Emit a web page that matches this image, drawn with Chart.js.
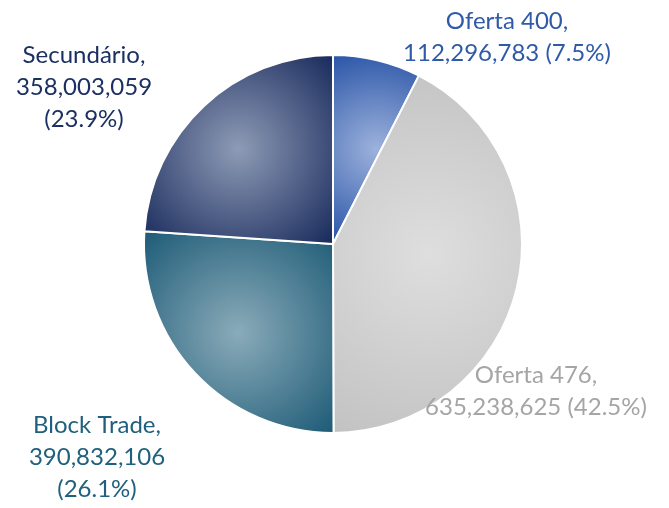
<!DOCTYPE html>
<html>
<head>
<meta charset="utf-8">
<script src="https://cdn.jsdelivr.net/npm/chart.js@4/dist/chart.umd.min.js"></script>
<style>
  html, body { margin: 0; padding: 0; background: #ffffff; }
  #wrap { width: 669px; height: 508px; position: relative; }
</style>
</head>
<body>
<div id="wrap"><canvas id="c" width="669" height="508"></canvas></div>
<script>
// ---- data ----
const categories = ["Oferta 400", "Oferta 476", "Block Trade", "Secundário"];
const values = [112296783, 635238625, 390832106, 358003059];
const percentLabels = ["7.5%", "42.5%", "26.1%", "23.9%"];

// ---- styles ----
const edgeColors   = ["#2853a6", "#c1c2c1", "#1c5a76", "#17295b"];
const centerColors = ["#9db2dc", "#dedede", "#8aabb9", "#8e9bb6"];
const textColors   = ["#2e5aa8", "#a5a5a5", "#1f607e", "#1c2f63"];
// label anchor (center x, first baseline y) and line splitting, per slice
const labelLayout = [
  { x: 507, y: 29,  lines: (n, v, p) => [n + ",", v + " (" + p + ")"] },
  { x: 536, y: 383, lines: (n, v, p) => [n + ",", v + " (" + p + ")"] },
  { x: 97,  y: 433, lines: (n, v, p) => [n + ",", v, "(" + p + ")"] },
  { x: 84,  y: 63,  lines: (n, v, p) => [n + ",", v, "(" + p + ")"] }
];
const FONT = "24px Lato, 'Open Sans', sans-serif";
const LINE_H = 32;

function fmt(n) { return n.toLocaleString("en-US"); }

function sliceGradient(ctx) {
  const chart = ctx.chart;
  const i = ctx.dataIndex;
  const area = chart.chartArea;
  if (!area) return edgeColors[i];
  const cx = (area.left + area.right) / 2;
  const cy = (area.top + area.bottom) / 2;
  const r = Math.min(area.right - area.left, area.bottom - area.top) / 2;
  const total = values.reduce((a, b) => a + b, 0);
  let before = 0;
  for (let k = 0; k < i; k++) before += values[k];
  const a0 = before / total * Math.PI * 2;
  const a1 = (before + values[i]) / total * Math.PI * 2;
  const pts = [[cx, cy]];
  const pt = a => [cx + r * Math.sin(a), cy - r * Math.cos(a)];
  pts.push(pt(a0), pt(a1));
  for (let q = 0; q < 4; q++) {
    const a = q * Math.PI / 2;
    if (a > a0 && a < a1) pts.push(pt(a));
  }
  const xs = pts.map(p => p[0]), ys = pts.map(p => p[1]);
  const minX = Math.min(...xs), maxX = Math.max(...xs);
  const minY = Math.min(...ys), maxY = Math.max(...ys);
  const gx = (minX + maxX) / 2, gy = (minY + maxY) / 2;
  const gr = Math.hypot(maxX - minX, maxY - minY) / 2;
  const g = chart.ctx.createRadialGradient(gx, gy, 0, gx, gy, gr);
  g.addColorStop(0, centerColors[i]);
  g.addColorStop(1, edgeColors[i]);
  return g;
}

const labelPlugin = {
  id: "sliceLabels",
  afterDraw(chart) {
    const c = chart.ctx;
    c.save();
    c.font = FONT;
    c.textAlign = "center";
    c.textBaseline = "alphabetic";
    chart.getDatasetMeta(0).data.forEach((arc, i) => {
      const L = labelLayout[i];
      const lines = L.lines(categories[i], fmt(values[i]), percentLabels[i]);
      c.fillStyle = textColors[i];
      lines.forEach((t, j) => c.fillText(t, L.x, L.y + j * LINE_H));
    });
    c.restore();
  }
};

new Chart(document.getElementById("c"), {
  type: "pie",
  data: {
    labels: categories,
    datasets: [{
      data: values,
      backgroundColor: sliceGradient,
      borderColor: "#ffffff",
      borderWidth: 2,
      hoverOffset: 0
    }]
  },
  options: {
    responsive: false,
    animation: false,
    events: [],
    layout: { padding: { left: 143, right: 146, top: 54, bottom: 74 } },
    plugins: {
      legend: { display: false },
      tooltip: { enabled: false }
    }
  },
  plugins: [labelPlugin]
});
</script>
</body>
</html>
